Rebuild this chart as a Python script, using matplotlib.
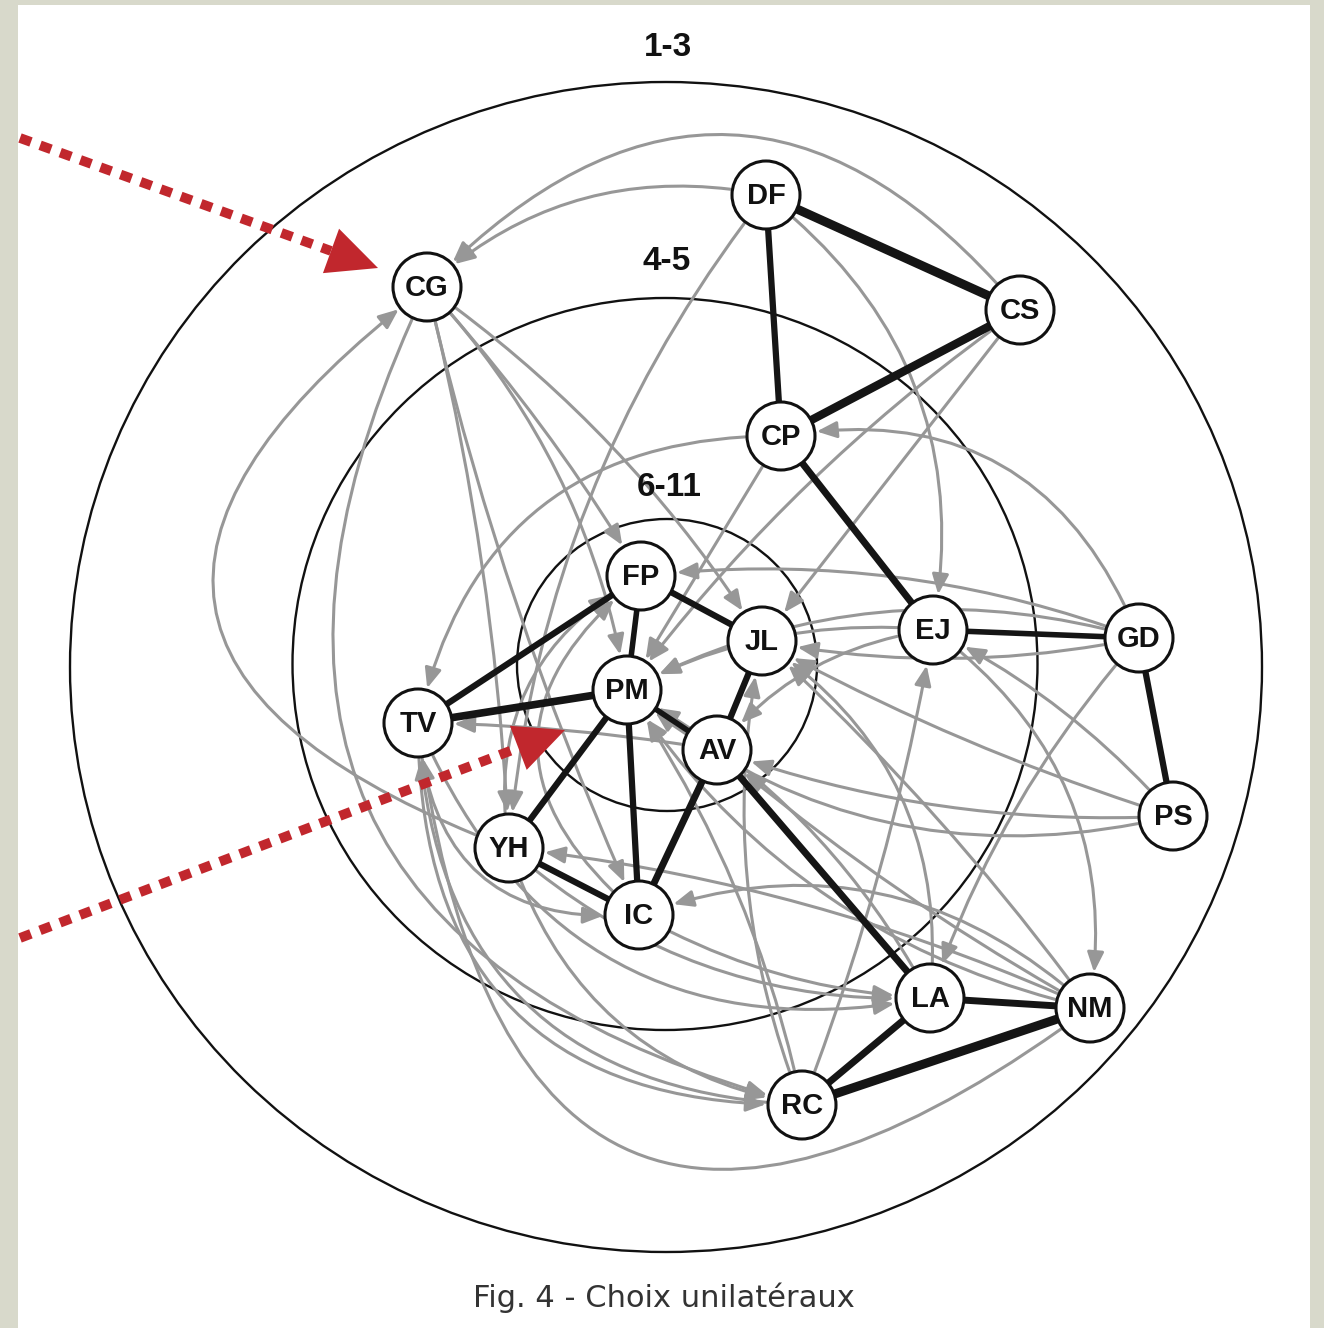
import matplotlib
matplotlib.use("Agg")
import matplotlib.pyplot as plt
import numpy as np
from matplotlib.patches import Ellipse, Circle, Rectangle, FancyArrowPatch, ArrowStyle

# ---------------- data ----------------
names = ["DF", "CG", "CS", "CP", "FP", "JL", "EJ", "GD", "PM", "TV", "AV", "PS", "YH", "IC", "LA", "NM", "RC"]
node_x = [766, 427, 1020, 781, 641, 762, 933, 1139, 627, 418, 717, 1173, 509, 639, 930, 1090, 802]
node_y = [195, 287, 310, 436, 576, 641, 630, 638, 690, 723, 750, 816, 848, 915, 998, 1008, 1105]

ring_labels = ["1-3", "4-5", "6-11"]
ring_cx = [666, 665, 667]
ring_cy = [667, 664, 665]
ring_w = [1192, 745, 300]
ring_h = [1170, 732, 292]
ring_label_y = [47, 262, 488]

# mutual choices (thick black)
mutual = [("DF", "CS"), ("DF", "CP"), ("CS", "CP"), ("CP", "EJ"), ("EJ", "GD"), ("GD", "PS"),
          ("FP", "JL"), ("FP", "PM"), ("FP", "TV"), ("TV", "PM"), ("PM", "AV"), ("JL", "AV"),
          ("PM", "YH"), ("PM", "IC"), ("AV", "IC"), ("YH", "IC"), ("AV", "LA"), ("LA", "NM"),
          ("LA", "RC"), ("NM", "RC")]
mutual_w = [6.5, 4.5, 6.0, 5.0, 4.0, 4.5, 4.5, 4.0, 4.5, 5.5, 4.0, 4.5,
            4.5, 4.5, 5.0, 4.5, 5.0, 5.0, 5.0, 6.5]

# unilateral choices (grey arrows): source, target, curvature
unilateral = [
    ("CS", "CG", 0.55), ("DF", "CG", 0.25), ("DF", "EJ", -0.3), ("DF", "YH", 0.15),
    ("CP", "TV", 0.4), ("GD", "CP", 0.4), ("GD", "JL", -0.1), ("GD", "FP", 0.12),
    ("PS", "EJ", 0.1), ("PS", "JL", -0.05), ("PS", "AV", -0.1), ("PS", "PM", -0.25),
    ("EJ", "AV", 0.2), ("EJ", "NM", -0.3), ("EJ", "PM", 0.15), ("CS", "JL", 0.0),
    ("CS", "PM", 0.08), ("CP", "PM", 0.0), ("CG", "PM", -0.15), ("CG", "JL", -0.1),
    ("CG", "FP", -0.05), ("CG", "IC", 0.05), ("CG", "YH", -0.05), ("CG", "RC", 0.6),
    ("YH", "CG", -0.9), ("IC", "FP", -0.6), ("YH", "FP", -0.35), ("AV", "TV", 0.04),
    ("NM", "YH", 0.08), ("NM", "IC", 0.3), ("NM", "JL", 0.05), ("NM", "AV", -0.05),
    ("NM", "TV", -0.85), ("NM", "PM", -0.2), ("LA", "JL", 0.3), ("LA", "PM", 0.15),
    ("RC", "EJ", 0.05), ("RC", "JL", -0.15), ("RC", "PM", 0.1), ("RC", "TV", -0.45),
    ("TV", "IC", 0.5), ("TV", "LA", 0.4), ("TV", "RC", 0.5), ("YH", "LA", 0.2),
    ("YH", "RC", 0.3), ("IC", "LA", 0.12), ("GD", "PM", 0.2), ("GD", "LA", 0.1),
]

caption = "Fig. 4 - Choix unilatéraux"

# red pointer arrows (start -> tip)
pointer_start = [(20, 138), (20, 938)]
pointer_tip = [(378, 268), (565, 730)]

# ---------------- drawing ----------------
W, H = 1324, 1328
fig = plt.figure(figsize=(W / 100, H / 100), dpi=100)
fig.patch.set_facecolor("#d8d9cb")
ax = fig.add_axes([0, 0, 1, 1])
ax.set_xlim(0, W)
ax.set_ylim(H, 0)
ax.axis("off")

ax.add_patch(Rectangle((18, 5), 1292, 1330, facecolor="white", edgecolor="none", zorder=0))

pos = {n: (x, y) for n, x, y in zip(names, node_x, node_y)}
R = 34

for cx, cy, w, h in zip(ring_cx, ring_cy, ring_w, ring_h):
    ax.add_patch(Ellipse((cx, cy), w, h, facecolor="none", edgecolor="#111111", lw=1.7, zorder=1))
for lab, cx, ly in zip(ring_labels, ring_cx, ring_label_y):
    ax.text(cx + 2, ly, lab, ha="center", va="center", fontsize=24, fontweight="bold",
            family="Liberation Sans", color="#111111", zorder=6)

style = ArrowStyle("-|>", head_length=0.6, head_width=0.25)
shrink_pt = (R + 2) * 0.72
for s, t, rad in unilateral:
    a = FancyArrowPatch(pos[s], pos[t], connectionstyle=f"arc3,rad={rad}", arrowstyle=style,
                        mutation_scale=20, color="#979797", lw=2.2, shrinkA=shrink_pt,
                        shrinkB=shrink_pt, zorder=2)
    ax.add_patch(a)

for (s, t), lw in zip(mutual, mutual_w):
    ax.plot([pos[s][0], pos[t][0]], [pos[s][1], pos[t][1]], color="#151515", lw=lw,
            solid_capstyle="butt", zorder=3)

for n in names:
    ax.add_patch(Circle(pos[n], R, facecolor="white", edgecolor="#111111", lw=2.2, zorder=4))
    ax.text(pos[n][0], pos[n][1] + 1, n, ha="center", va="center", fontsize=21,
            fontweight="bold", family="Liberation Sans", color="#111111", zorder=5)

for (x0, y0), (x1, y1) in zip(pointer_start, pointer_tip):
    d = np.hypot(x1 - x0, y1 - y0)
    ux, uy = (x1 - x0) / d, (y1 - y0) / d
    hl = 50
    bx, by = x1 - ux * hl, y1 - uy * hl
    ax.plot([x0, bx], [y0, by], color="#c1272d", lw=7.0, linestyle=(0, (1.2, 1.0)),
            solid_capstyle="butt", dash_capstyle="butt", zorder=7)
    ax.add_patch(FancyArrowPatch((bx - ux * 2, by - uy * 2), (x1, y1),
                                 arrowstyle=ArrowStyle("-|>", head_length=1.8, head_width=0.85),
                                 mutation_scale=20, color="#c1272d", lw=0, shrinkA=0, shrinkB=0,
                                 zorder=7))

ax.text(664, 1298, caption, ha="center", va="center", fontsize=22, family="DejaVu Sans",
        color="#333333", zorder=6)

fig.savefig("out.png", dpi=100, facecolor=fig.get_facecolor())
